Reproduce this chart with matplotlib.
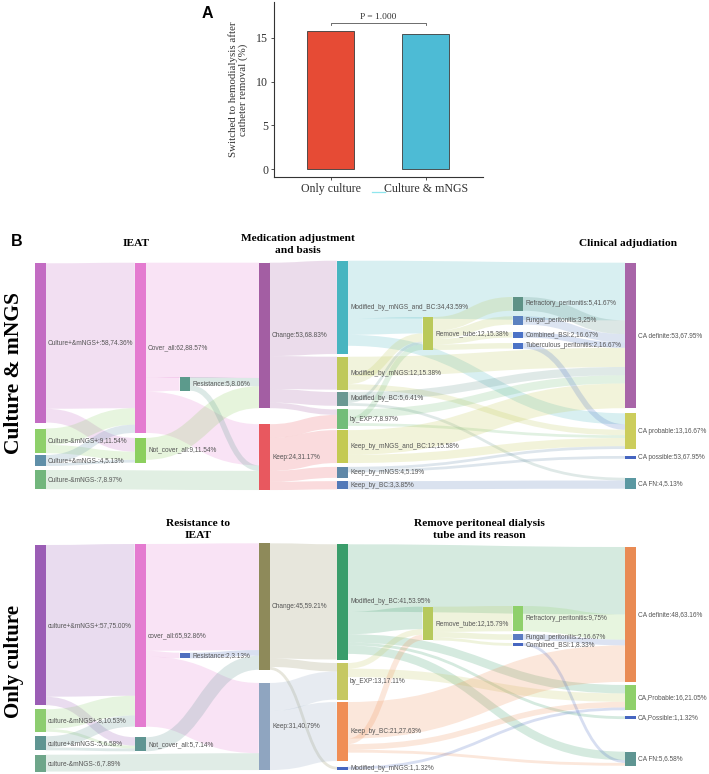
import matplotlib
matplotlib.use('Agg')
import matplotlib.pyplot as plt
from matplotlib.path import Path
from matplotlib.patches import PathPatch, Rectangle

SERIF = 'Liberation Serif'
SANS = 'Liberation Sans'

# ---- panel A data ----
groups = ['Only culture', 'Culture & mNGS']
switched_pct = [15.79, 15.38]
bar_colors = ['#E64B35', '#4DBBD5']
p_label = 'P = 1.000'

# ---- panel B, Culture & mNGS sankey ----
cm_nodes = ['Culture+&mNGS+', 'Culture-&mNGS+', 'Culture+&mNGS-', 'Culture-&mNGS-',
            'Cover_all', 'Not_cover_all', 'Resistance', 'Change', 'Keep',
            'Modified_by_mNGS_and_BC', 'Modified_by_mNGS', 'Modified_by_BC', 'by_EXP',
            'Keep_by_mNGS_and_BC', 'Keep_by_mNGS', 'Keep_by_BC', 'Remove_tube',
            'Refractory_peritonitis', 'Fungal_peritonitis', 'Combined_BSI',
            'Tuberculous_peritonitis', 'CA definite', 'CA probable', 'CA possible', 'CA FN']
cm_values = [58, 9, 4, 7, 62, 9, 5, 53, 24, 34, 12, 5, 7, 12, 4, 3, 12, 5, 3, 2, 2, 53, 13, 1, 4]
cm_labels = ['Culture+&mNGS+:58,74.36%', 'Culture-&mNGS+:9,11.54%', 'Culture+&mNGS-:4,5.13%',
             'Culture-&mNGS-:7,8.97%', 'Cover_all:62,88.57%', 'Not_cover_all:9,11.54%',
             'Resistance:5,8.06%', 'Change:53,68.83%', 'Keep:24,31.17%',
             'Modified_by_mNGS_and_BC:34,43.59%', 'Modified_by_mNGS:12,15.38%',
             'Modified_by_BC:5,6.41%', 'by_EXP:7,8.97%', 'Keep_by_mNGS_and_BC:12,15.58%',
             'Keep_by_mNGS:4,5.19%', 'Keep_by_BC:3,3.85%', 'Remove_tube:12,15.38%',
             'Refractory_peritonitis:5,41.67%', 'Fungal_peritonitis:3,25%',
             'Combined_BSI:2,16.67%', 'Tuberculous_peritonitis:2,16.67%',
             'CA definite:53,67.95%', 'CA probable:13,16.67%', 'CA possible:53,67.95%',
             'CA FN:4,5.13%']
cm_stage = [0, 0, 0, 0, 1, 1, 2, 3, 3, 4, 4, 4, 4, 4, 4, 4, 5, 6, 6, 6, 6, 7, 7, 7, 7]
cm_colors = ['#c36cc3', '#8ed06a', '#5f8fa8', '#72b67c', '#e47bd0', '#8ccf5e', '#5c9a8c',
             '#a35ea3', '#e8585f', '#47b5c0', '#bfc95a', '#6a9892', '#72bd78', '#c4ca52',
             '#5f88a8', '#5279b8', '#bac95a', '#5e9286', '#5c82c0', '#4b72c6', '#4b72c6',
             '#a865a8', '#cccd5c', '#4565c0', '#5b98a2']
cm_links = [
    ('Culture+&mNGS+', 'Cover_all', 53), ('Culture+&mNGS+', 'Not_cover_all', 5),
    ('Culture-&mNGS+', 'Cover_all', 6), ('Culture-&mNGS+', 'Not_cover_all', 3),
    ('Culture+&mNGS-', 'Cover_all', 3), ('Culture+&mNGS-', 'Not_cover_all', 1),
    ('Culture-&mNGS-', 'Keep', 7),
    ('Cover_all', 'Change', 42), ('Cover_all', 'Resistance', 5), ('Cover_all', 'Keep', 15),
    ('Not_cover_all', 'Change', 8),
    ('Resistance', 'Change', 3), ('Resistance', 'Keep', 2),
    ('Change', 'Modified_by_mNGS_and_BC', 34), ('Change', 'Modified_by_mNGS', 12),
    ('Change', 'Modified_by_BC', 5), ('Change', 'by_EXP', 2),
    ('Keep', 'by_EXP', 5), ('Keep', 'Keep_by_mNGS_and_BC', 12),
    ('Keep', 'Keep_by_mNGS', 4), ('Keep', 'Keep_by_BC', 3),
    ('Modified_by_mNGS_and_BC', 'CA definite', 21), ('Modified_by_mNGS_and_BC', 'Remove_tube', 6),
    ('Modified_by_mNGS_and_BC', 'CA probable', 4),
    ('Modified_by_mNGS', 'Remove_tube', 3), ('Modified_by_mNGS', 'CA definite', 7),
    ('Modified_by_mNGS', 'CA probable', 2),
    ('Modified_by_BC', 'Remove_tube', 1), ('Modified_by_BC', 'CA definite', 3),
    ('Modified_by_BC', 'CA FN', 1),
    ('by_EXP', 'Remove_tube', 2), ('by_EXP', 'CA definite', 3), ('by_EXP', 'CA probable', 1),
    ('Keep_by_mNGS_and_BC', 'CA definite', 9), ('Keep_by_mNGS_and_BC', 'CA probable', 3),
    ('Keep_by_mNGS', 'CA probable', 1), ('Keep_by_mNGS', 'CA possible', 1),
    ('Keep_by_BC', 'CA FN', 3),
    ('Remove_tube', 'Refractory_peritonitis', 5), ('Remove_tube', 'Fungal_peritonitis', 3),
    ('Remove_tube', 'Combined_BSI', 2), ('Remove_tube', 'Tuberculous_peritonitis', 2),
    ('Refractory_peritonitis', 'CA definite', 5), ('Fungal_peritonitis', 'CA definite', 3),
    ('Combined_BSI', 'CA definite', 2), ('Tuberculous_peritonitis', 'CA probable', 2),
]

# ---- panel B, Only culture sankey ----
oc_nodes = ['culture+&mNGS+', 'culture-&mNGS+', 'culture+&mNGS-', 'culture-&mNGS-',
            'cover_all', 'Not_cover_all', 'Resistance', 'Change', 'Keep',
            'Modified_by_BC', 'by_EXP', 'Keep_by_BC', 'Modified_by_mNGS', 'Remove_tube',
            'Refractory_peritonitis', 'Fungal_peritonitis', 'Combined_BSI',
            'CA definite', 'CA,Probable', 'CA,Possible', 'CA FN']
oc_values = [57, 8, 5, 6, 65, 5, 2, 45, 31, 41, 13, 21, 1, 12, 9, 2, 1, 48, 9, 1, 5]
oc_labels = ['culture+&mNGS+:57,75.00%', 'culture-&mNGS+:8,10.53%', 'culture+&mNGS-:5,6.58%',
             'culture-&mNGS-:6,7.89%', 'cover_all:65,92.86%', 'Not_cover_all:5,7.14%',
             'Resistance:2,3.13%', 'Change:45,59.21%', 'Keep:31,40.79%',
             'Modified_by_BC:41,53.95%', 'by_EXP:13,17.11%', 'Keep_by_BC:21,27.63%',
             'Modified_by_mNGS:1,1.32%', 'Remove_tube:12,15.79%',
             'Refractory_peritonitis:9,75%', 'Fungal_peritonitis:2,16.67%',
             'Combined_BSI:1,8.33%', 'CA definite:48,63.16%', 'CA,Probable:16,21.05%',
             'CA,Possible:1,1.32%', 'CA FN:5,6.58%']
oc_stage = [0, 0, 0, 0, 1, 1, 2, 3, 3, 4, 4, 4, 4, 5, 6, 6, 6, 7, 7, 7, 7]
oc_colors = ['#9b5db5', '#8dcd70', '#5f9592', '#6ea68a', '#e47bd0', '#5f9592', '#4f6fbf',
             '#8e8a5a', '#8fa5c0', '#3a9d6b', '#c6c862', '#f08e55', '#4666c0', '#b6c95c',
             '#8fd06b', '#5b7bc2', '#4666c0', '#e98b54', '#8fd06b', '#4666c0', '#5f9592']
oc_links = [
    ('culture+&mNGS+', 'cover_all', 54), ('culture+&mNGS+', 'Not_cover_all', 3),
    ('culture-&mNGS+', 'cover_all', 7), ('culture-&mNGS+', 'Not_cover_all', 1),
    ('culture+&mNGS-', 'cover_all', 4), ('culture+&mNGS-', 'Not_cover_all', 1),
    ('culture-&mNGS-', 'Keep', 6),
    ('cover_all', 'Change', 38), ('cover_all', 'Resistance', 2), ('cover_all', 'Keep', 25),
    ('Not_cover_all', 'Change', 5), ('Resistance', 'Change', 2),
    ('Change', 'Modified_by_BC', 41), ('Change', 'by_EXP', 3), ('Change', 'Modified_by_mNGS', 1),
    ('Keep', 'by_EXP', 10), ('Keep', 'Keep_by_BC', 21),
    ('Modified_by_BC', 'CA definite', 24), ('Modified_by_BC', 'Remove_tube', 8),
    ('Modified_by_BC', 'CA,Probable', 3), ('Modified_by_BC', 'CA,Possible', 1),
    ('Modified_by_BC', 'CA FN', 3),
    ('by_EXP', 'Remove_tube', 2), ('by_EXP', 'CA,Probable', 3),
    ('Keep_by_BC', 'Remove_tube', 2), ('Keep_by_BC', 'CA definite', 13),
    ('Keep_by_BC', 'CA,Probable', 2), ('Keep_by_BC', 'CA FN', 1),
    ('Modified_by_mNGS', 'CA,Probable', 1),
    ('Remove_tube', 'Refractory_peritonitis', 9), ('Remove_tube', 'Fungal_peritonitis', 2),
    ('Remove_tube', 'Combined_BSI', 1),
    ('Refractory_peritonitis', 'CA definite', 9), ('Fungal_peritonitis', 'CA definite', 2),
    ('Combined_BSI', 'CA FN', 1),
]

# layout (pixels): stage x, node width, stage top, gaps between nodes
stage_x = [35, 135, 179.5, 259, 337, 422.5, 512.5, 625]
node_w = 10.5
cm_top = [263.3, 262.7, 377, 262.7, 260.7, 317, 297, 262.7]
cm_gaps = [[6, 1.8, 4], [5], [], [16], [2.7, 2.4, 3.6, 1.5, 3.8, 3.3], [], [5.6, 7.5, 5.5], [5.1, 7, 19]]
oc_top = [545, 544, 652.7, 543.3, 544.3, 606.7, 606, 547]
oc_gaps = [[4.1, 4.5, 4.4], [10.6], [], [13.2], [3.5, 2.5, 5.7], [], [3, 3.1], [3.1, 6, 32.6]]


def draw_sankey(ax, nodes, values, labels, stage, colors, links, tops, gaps, scale):
    pos = {}
    for s in range(len(stage_x)):
        y = tops[s]
        members = [i for i in range(len(nodes)) if stage[i] == s]
        for k, i in enumerate(members):
            h = values[i] * scale
            pos[nodes[i]] = (stage_x[s], y, h)
            y += h
            if k < len(gaps[s]):
                y += gaps[s][k]
    col = dict(zip(nodes, colors))

    # stack link ends like d3-sankey: by the other end's vertical position
    src_y, tgt_y = {}, {}
    for n in nodes:
        outs = sorted([l for l in links if l[0] == n], key=lambda l: pos[l[1]][1])
        y = pos[n][1]
        for l in outs:
            src_y[l] = y + l[2] * scale / 2
            y += l[2] * scale
        ins = sorted([l for l in links if l[1] == n], key=lambda l: pos[l[0]][1])
        y = pos[n][1]
        for l in ins:
            tgt_y[l] = y + l[2] * scale / 2
            y += l[2] * scale

    for l in links:
        x0 = pos[l[0]][0] + node_w
        x1 = pos[l[1]][0]
        xm = (x0 + x1) / 2
        y0, y1 = src_y[l], tgt_y[l]
        path = Path([(x0, y0), (xm, y0), (xm, y1), (x1, y1)],
                    [Path.MOVETO, Path.CURVE4, Path.CURVE4, Path.CURVE4])
        ax.add_patch(PathPatch(path, facecolor='none', edgecolor=col[l[0]], alpha=0.21,
                               lw=l[2] * scale * 0.72, capstyle='butt', zorder=1))

    for i, n in enumerate(nodes):
        x, y, h = pos[n]
        ax.add_patch(Rectangle((x, y), node_w, h, facecolor=col[n], edgecolor='none', zorder=2))
        ax.text(x + node_w + 2.6, y + h / 2, labels[i], ha='left', va='center',
                fontsize=4.7, color='#555555', family=SANS, zorder=3)


fig = plt.figure(figsize=(7.09, 7.74), dpi=100)

# full-figure axes in pixel units for panel B
ax_b = fig.add_axes([0, 0, 1, 1])
ax_b.set_xlim(0, 709)
ax_b.set_ylim(774, 0)
ax_b.axis('off')

draw_sankey(ax_b, cm_nodes, cm_values, cm_labels, cm_stage, cm_colors, cm_links,
            cm_top, cm_gaps, 2.745)
draw_sankey(ax_b, oc_nodes, oc_values, oc_labels, oc_stage, oc_colors, oc_links,
            oc_top, oc_gaps, 2.81)

title_kw = dict(ha='center', va='center', fontsize=8.2, fontweight='bold', family=SERIF,
                linespacing=1.35)
ax_b.text(136, 244, 'IEAT', **title_kw)
ax_b.text(298, 244.5, 'Medication adjustment\nand basis', **title_kw)
ax_b.text(628, 244, 'Clinical adjudiation', **title_kw)
ax_b.text(198, 529.5, 'Resistance to\nIEAT', **title_kw)
ax_b.text(479, 529.5, 'Remove peritoneal dialysis\ntube and its reason', **title_kw)

ax_b.text(14, 373, 'Culture & mNGS', rotation=90, ha='center', va='center',
          fontsize=15.5, fontweight='bold', family=SERIF)
ax_b.text(14, 661, 'Only culture', rotation=90, ha='center', va='center',
          fontsize=15, fontweight='bold', family=SERIF)

ax_b.text(17, 242, 'B', ha='center', va='center', fontsize=11.5, fontweight='bold', family=SANS)
ax_b.text(207, 13, 'A', ha='center', va='center', fontsize=11.5, fontweight='bold', family=SANS)
# small cyan artefact under the x label in the original
ax_b.plot([372, 385], [191.7, 191.7], color='#8fe6ee', lw=0.9)

# ---- panel A ----
ax_a = fig.add_axes([274 / 709, 1 - 177.3 / 774, 209 / 709, 175.3 / 774])
xpos = [1, 2]
ax_a.bar(xpos, switched_pct, width=0.5, color=bar_colors, edgecolor='#3a3a3a', linewidth=0.6)
ax_a.set_xlim(0.403, 2.603)
ax_a.set_ylim(-0.91, 19.07)
ax_a.set_xticks(xpos)
ax_a.set_xticklabels(groups, family=SERIF, fontsize=8.6)
ax_a.set_yticks([0, 5, 10, 15])
ax_a.set_yticklabels(['0', '5', '10', '15'], family=SERIF, fontsize=8.6)
ax_a.tick_params(length=2.5, width=0.6, pad=1.5, colors='#333333')
for side in ['top', 'right']:
    ax_a.spines[side].set_visible(False)
for side in ['left', 'bottom']:
    ax_a.spines[side].set_linewidth(0.8)
    ax_a.spines[side].set_color('#333333')
ax_a.text(-0.172, 0.5, 'Switched to hemodialysis after\ncatheter removal (%)', rotation=90,
          ha='center', va='center', transform=ax_a.transAxes, family=SERIF, fontsize=7.8,
          color='#333333', linespacing=1.1)

bracket_y = 16.7
ax_a.plot([1, 1, 2, 2], [bracket_y - 0.3, bracket_y, bracket_y, bracket_y - 0.3],
          color='#555555', lw=0.6)
ax_a.text(1.5, bracket_y + 0.15, p_label, ha='center', va='bottom', family=SERIF, fontsize=6.8,
          color='#333333')

fig.savefig('out.png', dpi=100)
